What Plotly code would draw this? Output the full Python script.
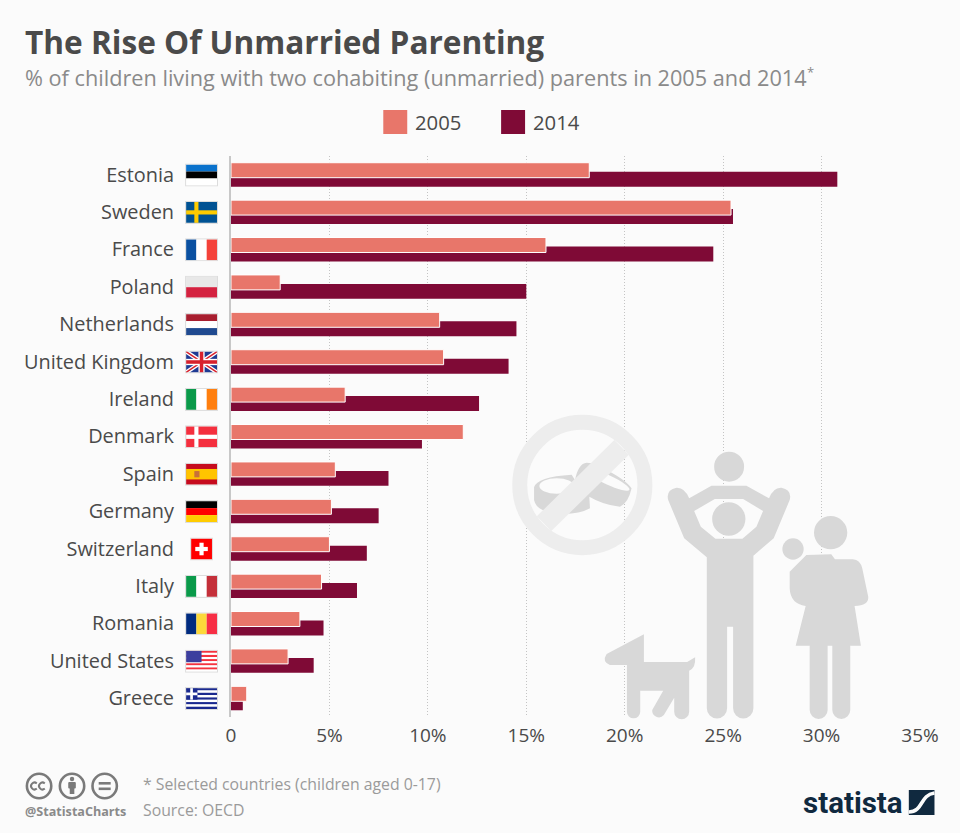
import base64
import plotly.graph_objects as go

countries = ["Estonia", "Sweden", "France", "Poland", "Netherlands", "United Kingdom", "Ireland",
             "Denmark", "Spain", "Germany", "Switzerland", "Italy", "Romania", "United States", "Greece"]
values_2005 = [18.2, 25.4, 16.0, 2.5, 10.6, 10.8, 5.8, 11.8, 5.3, 5.1, 5.0, 4.6, 3.5, 2.9, 0.8]
values_2014 = [30.8, 25.5, 24.5, 15.0, 14.5, 14.1, 12.6, 9.7, 8.0, 7.5, 6.9, 6.4, 4.7, 4.2, 0.6]
tick_vals = [0, 5, 10, 15, 20, 25, 30, 35]
tick_text = ["0", "5%", "10%", "15%", "20%", "25%", "30%", "35%"]

W, H = 960, 833
LEFT, RIGHT, TOP, BOTTOM = 230.5, 39.5, 156, 116
plot_w = W - LEFT - RIGHT
plot_h = H - TOP - BOTTOM
FONT = "Open Sans"
COLOR_2005 = "#e8766a"
COLOR_2014 = "#7f0a36"
BG = "#fbfbfb"


def px(x):
    return (x - LEFT) / plot_w


def py(y):
    return 1 - (y - TOP) / plot_h


def uri(svg):
    return "data:image/svg+xml;base64," + base64.b64encode(svg.encode()).decode()


def label(x, y, text, size, color, weight=None, anchor="left", family=FONT):
    if weight:
        text = "<b>" + text + "</b>"
    return dict(xref="paper", yref="paper", x=px(x), y=py(y), text=text, showarrow=False,
                xanchor=anchor, yanchor="middle", borderpad=0,
                font=dict(family=family, size=size, color=color))


# flags
def stripes(cols, vertical=False):
    out = ""
    n = len(cols)
    for i, c in enumerate(cols):
        if vertical:
            out += f'<rect x="{30 * i / n}" y="0" width="{30 / n}" height="20" fill="{c}"/>'
        else:
            out += f'<rect x="0" y="{20 * i / n}" width="30" height="{20 / n}" fill="{c}"/>'
    return out


def rect(x, y, w, h, c):
    return f'<rect x="{x}" y="{y}" width="{w}" height="{h}" fill="{c}"/>'


def line(x1, y1, x2, y2, c, w):
    return f'<line x1="{x1}" y1="{y1}" x2="{x2}" y2="{y2}" stroke="{c}" stroke-width="{w}"/>'


usa = stripes(["#f5333f", "#ffffff"] * 5) + rect(0, 0, 15, 11, "#3c3f9e")
greece = stripes(["#1b2a8f", "#ffffff"] * 4 + ["#1b2a8f"]) + rect(0, 0, 11, 11, "#1b2a8f") \
    + rect(4, 0, 2.6, 11, "#ffffff") + rect(0, 4.2, 11, 2.6, "#ffffff")
uk = rect(0, 0, 30, 20, "#1f3a93") + line(0, 0, 30, 20, "#ffffff", 4) + line(30, 0, 0, 20, "#ffffff", 4) \
    + line(0, 0, 30, 20, "#d8202c", 1.4) + line(30, 0, 0, 20, "#d8202c", 1.4) \
    + rect(12, 0, 6, 20, "#ffffff") + rect(0, 7, 30, 6, "#ffffff") \
    + rect(13.3, 0, 3.4, 20, "#d8202c") + rect(0, 8.3, 30, 3.4, "#d8202c")
flags = {
    "Estonia": stripes(["#0a72cc", "#000000", "#ffffff"]),
    "Sweden": rect(0, 0, 30, 20, "#005293") + rect(8, 0, 4, 20, "#fecb00") + rect(0, 8, 30, 4, "#fecb00"),
    "France": stripes(["#0a50a1", "#ffffff", "#f4423a"], True),
    "Poland": stripes(["#e8e8e8", "#d42240"]),
    "Netherlands": stripes(["#a81e2f", "#ffffff", "#204a90"]),
    "United Kingdom": uk,
    "Ireland": stripes(["#0a9a4a", "#ffffff", "#ff7f0f"], True),
    "Denmark": rect(0, 0, 30, 20, "#f42f3e") + rect(8, 0, 4, 20, "#ffffff") + rect(0, 8, 30, 4, "#ffffff"),
    "Spain": rect(0, 0, 30, 20, "#c60b1e") + rect(0, 5, 30, 10, "#ffc400") + rect(8, 7, 5, 6, "#c8703a"),
    "Germany": stripes(["#000000", "#ff0000", "#ffcc00"]),
    "Italy": stripes(["#0a9a4a", "#ffffff", "#c4303a"], True),
    "Romania": stripes(["#002b7f", "#fcd83a", "#f72e45"], True),
    "United States": usa,
    "Greece": greece,
}
swiss = rect(0, 0, 20, 20, "#ff0000") + rect(8, 4, 4, 12, "#ffffff") + rect(4, 8, 12, 4, "#ffffff")


def flag_image(name, i):
    cy = 175 + i * 37.4
    if name == "Switzerland":
        box, vw, w, h, body = "-1 -1 22 22", 20, 23, 23, swiss
    else:
        box, vw, w, h, body = "-1 -1 32 22", 30, 33, 23, flags[name]
    frame = f'<rect x="-0.5" y="-0.5" width="{vw + 1}" height="21" fill="none" stroke="#dcdcdc" stroke-width="1"/>'
    svg = f'<svg xmlns="http://www.w3.org/2000/svg" viewBox="{box}" preserveAspectRatio="none">{body}{frame}</svg>'
    return dict(source=uri(svg), xref="paper", yref="paper", x=px(201 - w / 2), y=py(cy - h / 2),
                sizex=w / plot_w, sizey=h / plot_h, xanchor="left", yanchor="top",
                sizing="stretch", layer="above")


# background pictograms, drawn in zoomed crop coordinates (3x)
GREY = "#d8d8d8"
RING = "#ededed"
icons = f'''<svg xmlns="http://www.w3.org/2000/svg" viewBox="0 0 {W} {H}" preserveAspectRatio="none">
<g transform="translate(500 400) scale(0.33333)">
<path fill="{GREY}" d="M102,262 Q110,230 215,224 L225,240 Q235,190 260,188 L275,190 Q370,230 395,265 Q385,310 360,320 Q310,315 268,290 L270,325 Q240,342 190,342 Q110,340 102,300 Z"/>
<ellipse cx="170" cy="258" rx="52" ry="23" fill="{BG}"/>
<ellipse cx="325" cy="240" rx="70" ry="14" transform="rotate(25 325 240)" fill="{BG}"/>
<circle cx="247" cy="255" r="188" fill="none" stroke="{RING}" stroke-width="45"/>
<line x1="365" y1="142" x2="132" y2="371" stroke="{RING}" stroke-width="62"/>
<circle cx="688" cy="200" r="45" fill="{GREY}"/>
<path fill="{GREY}" fill-rule="evenodd" d="M505,300 Q497,270 530,263 Q555,262 568,295 L635,257 L740,257 L808,295 Q820,262 845,263 Q878,270 870,300 L822,415 L761,467 L761,925 A30,30 0 0 1 700,925 L700,680 L682,680 L682,925 A30,30 0 0 1 621,925 L621,472 L553,415 Z M645,297 L730,297 L790,333 L770,380 L728,416 L647,416 L603,380 L583,333 Z"/>
<circle cx="687" cy="357" r="50" fill="{GREY}"/>
<circle cx="993" cy="398" r="50" fill="{GREY}"/>
<circle cx="880" cy="447" r="32" fill="{GREY}"/>
<path fill="{GREY}" d="M920,465 L995,463 L1006,478 L1060,478 Q1082,480 1088,505 L1106,590 Q1108,617 1065,618 L1084,737 L1052,737 L1052,930 A27,27 0 0 1 998,930 L998,737 L984,737 L984,930 A27,27 0 0 1 930,930 L930,737 L888,737 L918,618 Q872,612 870,565 L870,515 Z"/>
<path fill="{GREY}" d="M432,703 L432,786 L562,786 L586,772 Q588,805 568,812 L568,935 A22,22 0 0 1 523,935 L523,893 L492,945 A20,20 0 0 1 457,930 L490,872 L421,872 L421,935 A20,20 0 0 1 381,935 L381,795 L330,795 Q305,785 320,762 Z"/>
</g>
<g fill="none" stroke="#7a7a7a" stroke-width="2.6">
<circle cx="38.3" cy="786" r="12.2"/><circle cx="71.3" cy="786" r="12.2"/><circle cx="104" cy="786" r="12.2"/>
<path d="M36,783.5 A3.4,3.4 0 1 0 36,788.5 M44,783.5 A3.4,3.4 0 1 0 44,788.5" stroke-width="2"/>
</g>
<g fill="#7a7a7a">
<circle cx="71.3" cy="779" r="2.2"/><rect x="67.5" y="782" width="7.6" height="6.5" rx="1"/><rect x="69" y="786" width="4.6" height="8"/>
<rect x="98" y="782" width="12" height="2.6"/><rect x="98" y="787.5" width="12" height="2.6"/>
</g>
<rect x="909.3" y="790" width="25.7" height="25" fill="#10293f"/>
<path d="M909.3,812 C924,812 920,795 935,793" fill="none" stroke="{BG}" stroke-width="3.6"/>
</svg>'''

fig = go.Figure()
fig.add_trace(go.Bar(y=countries, x=values_2014, name="2014", orientation="h", width=0.4, offset=-0.08,
                     marker=dict(color=COLOR_2014, line=dict(width=0))))
fig.add_trace(go.Bar(y=countries, x=values_2005, name="2005", orientation="h", width=0.4, offset=-0.32,
                     marker=dict(color=COLOR_2005, line=dict(width=1, color="#ffffff"))))

annotations = [
    label(23, 41.5, "The Rise Of Unmarried Parenting", 31.6, "#4a4a4a", weight=True),
    label(23, 78, "% of children living with two cohabiting (unmarried) parents in 2005 and 2014", 21.7, "#8a8a8a"),
    label(806, 72, "*", 13, "#8a8a8a"),
    label(413.5, 122, "2005", 20.3, "#4a4a4a"),
    label(531.5, 122, "2014", 20.3, "#4a4a4a"),
    label(141, 784, "* Selected countries (children aged 0-17)", 15.8, "#9a9a9a"),
    label(141, 810, "Source: OECD", 15.8, "#9a9a9a"),
    label(23, 811, "@StatistaCharts", 12.6, "#8a8a8a", weight=True),
    label(802, 803, "statista", 29.5, "#10293f", weight=True, family="Roboto"),
]

shapes = [
    dict(type="rect", xref="paper", yref="paper", x0=px(383), x1=px(407), y0=py(110), y1=py(134),
         fillcolor=COLOR_2005, line=dict(width=0)),
    dict(type="rect", xref="paper", yref="paper", x0=px(501), x1=px(525), y0=py(110), y1=py(134),
         fillcolor=COLOR_2014, line=dict(width=0)),
]

images = [dict(source=uri(icons), xref="paper", yref="paper", x=px(0), y=py(0), sizex=W / plot_w, sizey=H / plot_h,
               xanchor="left", yanchor="top", sizing="stretch", layer="above")]
images += [flag_image(name, i) for i, name in enumerate(countries)]

fig.update_layout(
    width=W, height=H, barmode="overlay", showlegend=False,
    paper_bgcolor=BG, plot_bgcolor=BG,
    margin=dict(l=LEFT, r=RIGHT, t=TOP, b=BOTTOM, pad=0),
    font=dict(family=FONT, color="#4a4a4a"),
    annotations=annotations, shapes=shapes, images=images,
)
fig.update_xaxes(range=[0, 35], tickvals=tick_vals, ticktext=tick_text, showgrid=True, gridcolor="#c4c4c4",
                 griddash="1px,2px", gridwidth=1, zeroline=False, showline=False, ticks="",
                 ticklabelstandoff=5, tickfont=dict(size=19, color="#4a4a4a"))
fig.update_yaxes(categoryorder="array", categoryarray=countries, autorange="reversed", showgrid=False,
                 zeroline=False, showline=True, linecolor="#c8c8c8", linewidth=2, ticks="",
                 ticklabelstandoff=51, tickfont=dict(size=19.9, color="#4a4a4a"))

fig.write_html("out.html", config=dict(displayModeBar=False),
               post_script="document.body.style.margin='0';document.body.style.background='#fbfbfb';")
